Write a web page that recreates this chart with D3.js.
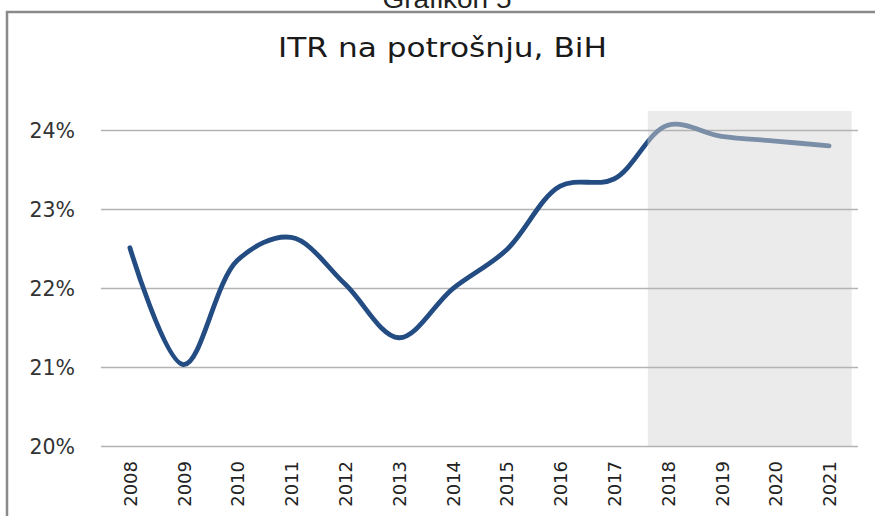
<!DOCTYPE html>
<html><head><meta charset="utf-8">
<script src="https://cdn.jsdelivr.net/npm/d3@7"></script>
<style>html,body{margin:0;padding:0;background:#fff;overflow:hidden}</style>
</head><body>
<svg id="c" width="875" height="516"></svg>
<script>
const years = ["2008","2009","2010","2011","2012","2013","2014","2015","2016","2017","2018","2019","2020","2021"];
const itr = [22.51, 21.03, 22.35, 22.64, 22.05, 21.37, 21.99, 22.48, 23.29, 23.38, 24.06, 23.92, 23.86, 23.80];
const yTicks = [20, 21, 22, 23, 24];
const projectionYears = ["2018","2019","2020","2021"];
const chartTitle = "ITR na potrošnju, BiH";
const figureLabel = "Grafikon 5";

(function(){
const svg = d3.select("#c");
const pLeft = 103, pRight = 856, pTop = 111, pBottom = 446;

// outer frame
svg.append("rect").attr("x",7).attr("y",12).attr("width",900).attr("height",600)
  .attr("fill","none").attr("stroke","#8a8a8a").attr("stroke-width",2.5);

svg.append("text").attr("x",447).attr("y",8).attr("text-anchor","middle")
  .attr("font-family","Liberation Sans, Arial, sans-serif").attr("font-size",26).attr("fill","#222")
  .attr("textLength",129).attr("lengthAdjust","spacingAndGlyphs")
  .text(figureLabel);

svg.append("text").attr("x",442.5).attr("y",57).attr("text-anchor","middle")
  .attr("font-family","DejaVu Sans, Verdana, sans-serif").attr("font-size",26).attr("fill","#1a1a1a")
  .attr("textLength",329).attr("lengthAdjust","spacingAndGlyphs")
  .text(chartTitle);

const x = d3.scalePoint().domain(years).range([pLeft, pRight]).padding(0.5);
const step = x.step();
const y = d3.scaleLinear().domain([20, 24]).range([446, 130]);

// shaded projection area
const sx0 = x(projectionYears[0]) - 0.37*step;
const sx1 = x(projectionYears[projectionYears.length-1]) + 0.42*step;
svg.append("rect").attr("x",sx0).attr("y",pTop).attr("width",sx1-sx0).attr("height",pBottom-pTop)
  .attr("fill","#ebebeb");

// gridlines
const yAxis = d3.axisLeft(y).tickValues(yTicks).tickSize(-(858-101)).tickPadding(26)
  .tickFormat(d => d + "%");
const gy = svg.append("g").attr("transform","translate(101,0)").call(yAxis);
gy.select(".domain").remove();
gy.selectAll(".tick line").attr("stroke","#b3b3b3").attr("stroke-width",1.5);
gy.selectAll(".tick text").attr("font-family","DejaVu Sans, Verdana, sans-serif")
  .attr("font-size",20.5).attr("fill","#333").attr("dy","0.36em");

// x axis labels
const xAxis = d3.axisBottom(x).tickSize(0).tickPadding(0);
const gx = svg.append("g").attr("transform","translate(0,446)").call(xAxis);
gx.select(".domain").remove();
gx.selectAll(".tick text").attr("font-family","DejaVu Sans, Verdana, sans-serif")
  .attr("font-size",18).attr("fill","#222")
  .attr("transform","rotate(-90)").attr("text-anchor","end")
  .attr("x",-15).attr("y",0).attr("dy","0.36em");

// line
const line = d3.line().x((d,i)=>x(years[i])).y(d=>y(d)).curve(d3.curveCatmullRom.alpha(0.5));
const defs = svg.append("defs");
defs.append("clipPath").attr("id","cl").append("rect").attr("x",0).attr("y",0).attr("width",sx0).attr("height",516);
defs.append("clipPath").attr("id","cr").append("rect").attr("x",sx0).attr("y",0).attr("width",875-sx0).attr("height",516);
svg.append("path").datum(itr).attr("d",line).attr("fill","none").attr("stroke","#234c83")
  .attr("stroke-width",4.8).attr("stroke-linecap","round").attr("clip-path","url(#cl)");
svg.append("path").datum(itr).attr("d",line).attr("fill","none").attr("stroke","#7a8ea8")
  .attr("stroke-width",4.8).attr("stroke-linecap","round").attr("clip-path","url(#cr)");
})();
</script>
</body></html>
